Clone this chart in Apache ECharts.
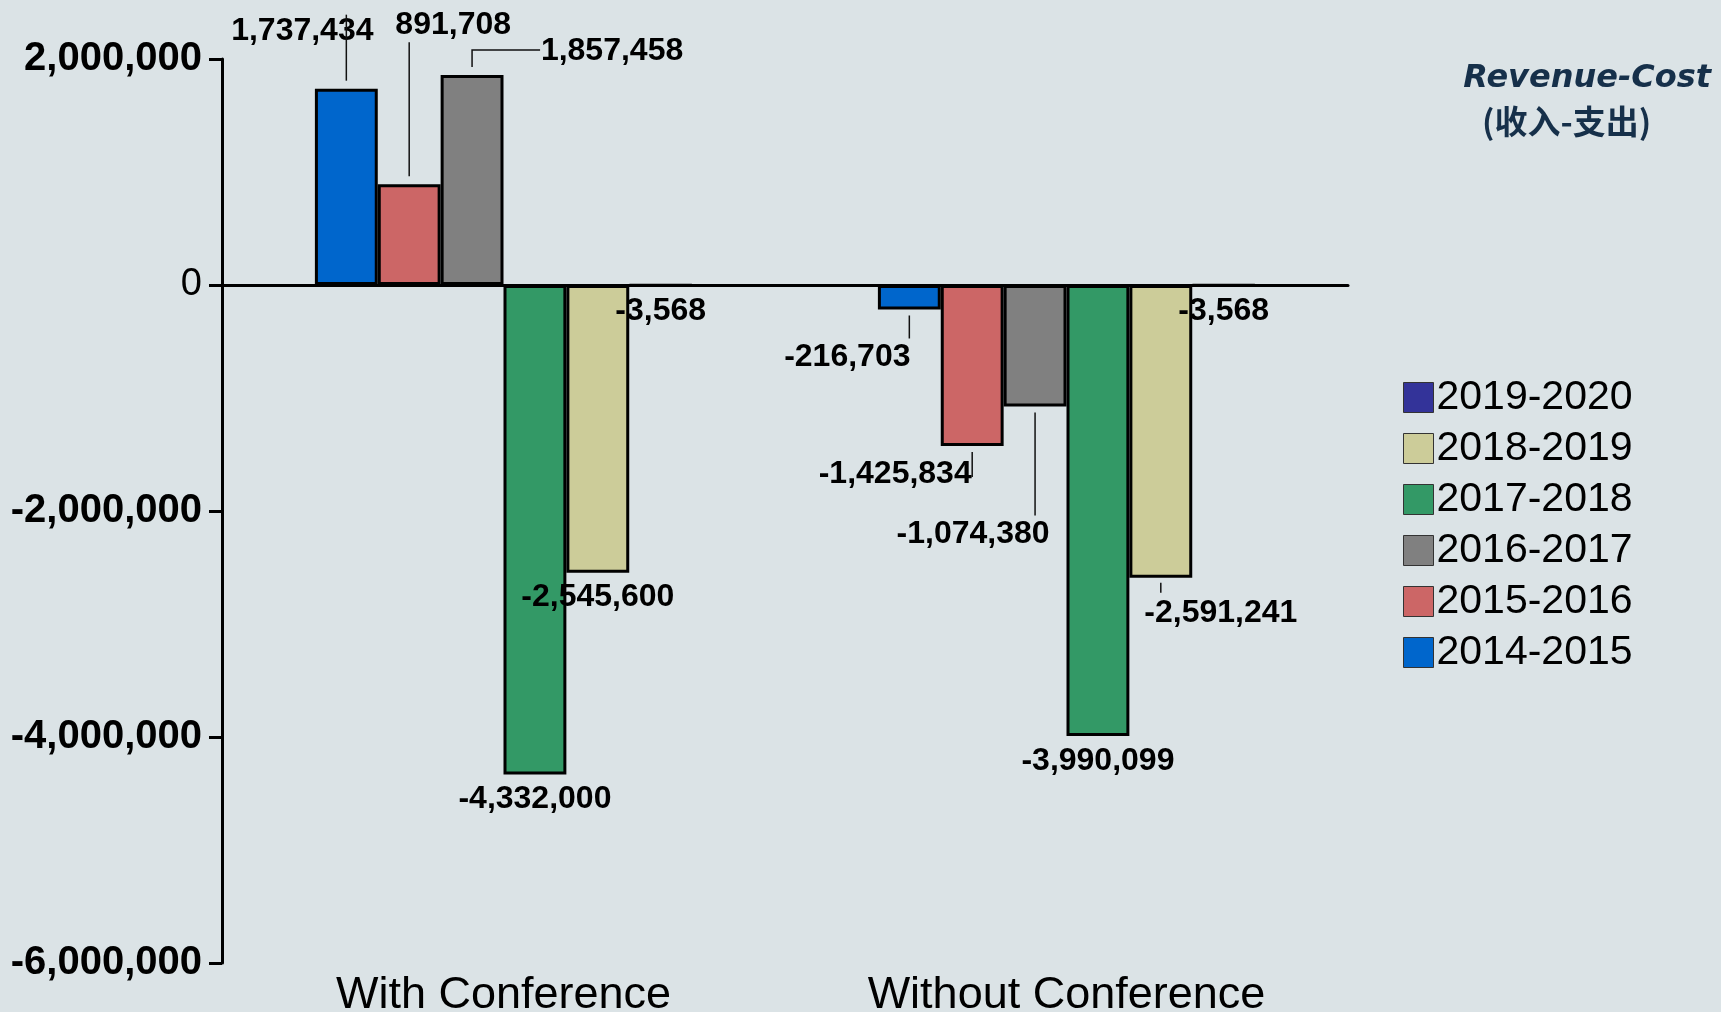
<!DOCTYPE html>
<html>
<head>
<meta charset="utf-8">
<script src="https://cdn.jsdelivr.net/npm/echarts@6/dist/echarts.min.js"></script>
<style>
html, body { margin: 0; padding: 0; background: #dbe3e6; }
#main { width: 1721px; height: 1012px; }
</style>
</head>
<body>
<div id="main"></div>
<script>
// data
var categories = ['With Conference', 'Without Conference'];
var years = ['2014-2015', '2015-2016', '2016-2017', '2017-2018', '2018-2019', '2019-2020'];
var v2014 = [1737434, -216703];
var v2015 = [891708, -1425834];
var v2016 = [1857458, -1074380];
var v2017 = [-4332000, -3990099];
var v2018 = [-2545600, -2591241];
var v2019 = [-3568, -3568];
var yMin = -6000000, yMax = 2000000, yStep = 2000000;

var values = [v2014, v2015, v2016, v2017, v2018, v2019];
var colors = ['#0066cc', '#cc6666', '#808080', '#339966', '#cccc99', '#333399'];

// label shifts [dx, dy] for each series / category
var labelShift = [
    [[-44, -41], [-62, 32]],
    [[44, -143], [-77, 12]],
    [[140, -8], [-62, 112]],
    [[0, 9], [0, 9]],
    [[0, 9], [60, 19]],
    [[0, 8], [0, 8]]
];
// leader lines, points relative to the end of the bar
var leaders = [
    [[[0, -8], [0, -74]], [[0, 6], [0, 29]]],
    [[[0, -8], [0, -142]], [[0, 6], [0, 31]]],
    [[[0, -8], [0, -25], [68, -25]], [[0, 6], [0, 109]]],
    [null, null],
    [null, [[0, 5], [0, 15]]],
    [null, null]
];

function fmt(v) { return Number(v).toLocaleString('en-US'); }

var chart = echarts.init(document.getElementById('main'));

var series = years.map(function (name, i) {
    return {
        name: name,
        type: 'bar',
        barGap: '0%',
        barCategoryGap: '33%',
        itemStyle: { color: colors[i], borderColor: '#000', borderWidth: 3 },
        data: values[i].map(function (v, j) {
            return {
                value: v,
                label: {
                    position: v >= 0 ? 'top' : 'bottom',
                    offset: labelShift[i][j]
                }
            };
        }),
        label: {
            show: true,
            distance: 0,
            color: '#000',
            fontFamily: 'Liberation Sans, Arial, sans-serif',
            fontWeight: 'bold',
            fontSize: 32,
            lineHeight: 32,
            formatter: function (p) { return fmt(p.value); }
        }
    };
});

chart.setOption({
    backgroundColor: '#dbe3e6',
    animation: false,
    title: [{
        text: 'Revenue-Cost',
        right: 5,
        top: 58,
        textStyle: { fontFamily: 'DejaVu Sans', fontStyle: 'italic', fontWeight: 'bold', fontSize: 32, color: '#16304a' }
    }, {
        text: '(收入-支出)',
        left: 1477,
        top: 100,
        textStyle: { fontFamily: 'Noto Sans CJK SC', fontWeight: 'bold', fontSize: 33, color: '#16304a' }
    }],
    legend: {
        orient: 'vertical',
        left: 1398,
        top: 372,
        itemWidth: 30,
        itemHeight: 30,
        itemGap: 10,
        icon: 'rect',
        data: years.slice().reverse(),
        itemStyle: { borderColor: '#333', borderWidth: 1 },
        textStyle: { fontFamily: 'Liberation Sans, Arial, sans-serif', fontSize: 41, color: '#000', padding: [0, 0, 0, -2] }
    },
    grid: { left: 222, right: 373, top: 59, bottom: 49, outerBoundsMode: 'none', containLabel: false },
    xAxis: [{
        type: 'category',
        data: categories,
        axisLine: { show: false, onZero: false },
        axisTick: { show: false },
        axisLabel: { margin: 10, fontFamily: 'Liberation Sans, Arial, sans-serif', fontSize: 45, color: '#000' }
    }, {
        type: 'category',
        data: categories,
        axisLine: { onZero: true, lineStyle: { color: '#000', width: 3 } },
        axisTick: { show: false },
        axisLabel: { show: false }
    }],
    yAxis: {
        type: 'value',
        min: yMin,
        max: yMax,
        interval: yStep,
        splitLine: { show: false },
        axisLine: { show: true, lineStyle: { color: '#000', width: 3 } },
        axisTick: { show: true, length: 13, lineStyle: { color: '#000', width: 3 } },
        axisLabel: {
            margin: 20,
            color: '#000',
            fontFamily: 'Liberation Sans, Arial, sans-serif',
            fontWeight: 'bold',
            fontSize: 40,
            formatter: function (v) { return v === 0 ? '{z|0}' : fmt(v); },
            rich: { z: { fontFamily: 'Liberation Sans, Arial, sans-serif', fontWeight: 'normal', fontSize: 38, color: '#000' } }
        }
    },
    series: series
});

// leader lines from the bar ends to their labels
var lines = [];
chart.getModel().getSeries().forEach(function (s, i) {
    var data = s.getData();
    for (var j = 0; j < data.count(); j++) {
        var pts = leaders[i][j];
        if (!pts) continue;
        var lay = data.getItemLayout(j);
        var bx = lay.x + lay.width / 2;
        var by = lay.y + lay.height;
        lines.push({
            type: 'polyline',
            z: 10,
            silent: true,
            shape: { points: pts.map(function (p) { return [bx + p[0], by + p[1]]; }) },
            style: { stroke: '#111', lineWidth: 1.5, fill: null }
        });
    }
});
chart.setOption({ graphic: lines });
</script>
</body>
</html>
